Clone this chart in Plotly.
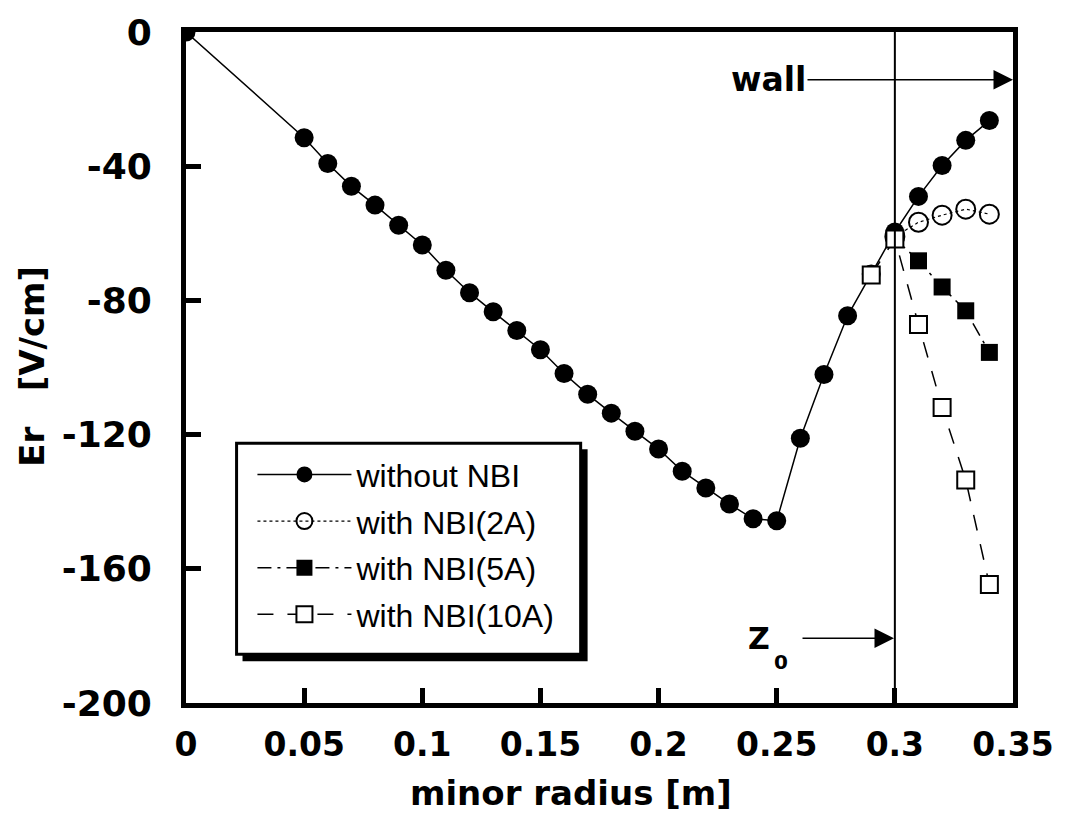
import plotly.graph_objects as go

# ---- data ----
r_base = [0.0, 0.05, 0.06, 0.07, 0.08, 0.09, 0.10, 0.11, 0.12, 0.13, 0.14, 0.15,
          0.16, 0.17, 0.18, 0.19, 0.20, 0.21, 0.22, 0.23, 0.24, 0.25, 0.26, 0.27,
          0.28, 0.29, 0.30, 0.31, 0.32, 0.33, 0.34]
er_base = [0.0, -31.5, -39.2, -46.0, -51.6, -57.6, -63.5, -71.0, -77.7, -83.4, -89.0,
           -94.7, -101.8, -108.0, -113.6, -119.0, -124.3, -130.9, -135.9, -140.7,
           -145.1, -145.7, -121.1, -102.1, -84.6, -72.1, -59.6, -49.0, -39.8, -32.3, -26.4]

r_2a = [0.30, 0.31, 0.32, 0.33, 0.34]
er_2a = [-61.0, -56.7, -54.6, -52.8, -54.3]

r_5a = [0.30, 0.31, 0.32, 0.33, 0.34]
er_5a = [-61.5, -68.2, -76.0, -83.1, -95.5]

r_10a = [0.29, 0.30, 0.31, 0.32, 0.33, 0.34]
er_10a = [-72.4, -61.7, -87.2, -111.9, -133.5, -164.7]

x_ticks = [0, 0.05, 0.1, 0.15, 0.2, 0.25, 0.3, 0.35]
x_ticktext = ["0", "0.05", "0.1", "0.15", "0.2", "0.25", "0.3", "0.35"]
y_ticks = [0, -40, -80, -120, -160, -200]
y_ticktext = ["0", "-40", "-80", "-120", "-160", "-200"]

names = ["without NBI", "with NBI(2A)", "with NBI(5A)", "with NBI(10A)"]

BOLD = dict(family="DejaVu Sans", color="black", weight="bold")

fig = go.Figure()
fig.add_trace(go.Scatter(
    x=r_base, y=er_base, name=names[0], mode="lines+markers", legendgroup="a",
    line=dict(color="black", width=1.5),
    marker=dict(symbol="circle", size=19, color="black")))
fig.add_trace(go.Scatter(
    x=r_2a, y=er_2a, name=names[1], mode="lines+markers", legendgroup="b",
    line=dict(color="black", width=1.2, dash="dot"),
    marker=dict(symbol="circle-open", size=19, color="black", line=dict(width=2))))
fig.add_trace(go.Scatter(
    x=r_5a, y=er_5a, name=names[2], mode="lines+markers", legendgroup="c",
    line=dict(color="black", width=1.5, dash="14px,6px,3px,6px"),
    marker=dict(symbol="square", size=17, color="black")))
fig.add_trace(go.Scatter(
    x=r_10a, y=er_10a, name=names[3], mode="lines+markers", legendgroup="d",
    line=dict(color="black", width=1.5, dash="16px,14px"),
    marker=dict(symbol="square", size=17, color="white", line=dict(color="black", width=2))))

# plot geometry in pixels (for annotation placement)
L, R, T, B = 186, 1020, 29, 703
W, H = R - L, B - T
def px_x(p):
    return (p - L) / W * 0.35
def px_y(p):
    return -(p - T) / H * 200
def pp_x(p):
    return (p - L) / W
def pp_y(p):
    return (B - p) / H

fig.update_layout(
    width=1066, height=823,
    margin=dict(l=L, r=1066 - R, t=T, b=823 - B),
    paper_bgcolor="white", plot_bgcolor="white",
    showlegend=True,
    legend=dict(
        x=pp_x(253), y=pp_y(446), xanchor="left", yanchor="top",
        bgcolor="rgba(0,0,0,0)", borderwidth=0,
        font=dict(family="Liberation Sans", size=32, color="black"),
        itemwidth=94, tracegroupgap=2),
    xaxis=dict(
        range=[0, 0.35], tickvals=x_ticks, ticktext=x_ticktext,
        showgrid=False, zeroline=False,
        showline=True, linecolor="black", linewidth=5, mirror=True,
        ticks="inside", ticklen=15, tickwidth=5, tickcolor="black",
        tickfont=dict(size=33, **BOLD), ticklabelstandoff=8),
    yaxis=dict(
        range=[-200, 0], tickvals=y_ticks, ticktext=y_ticktext,
        showgrid=False, zeroline=False,
        showline=True, linecolor="black", linewidth=5, mirror=True,
        ticks="inside", ticklen=15, tickwidth=5, tickcolor="black",
        tickfont=dict(size=36, **BOLD), ticklabelstandoff=22),
)

# Z0 vertical line
fig.add_shape(type="line", x0=0.30, x1=0.30, y0=0, y1=1, xref="x", yref="paper",
              line=dict(color="black", width=2))

# legend frame with drop shadow
fig.add_shape(type="rect", xref="paper", yref="paper",
              x0=pp_x(243), x1=pp_x(591), y0=pp_y(661), y1=pp_y(448),
              fillcolor="black", line=dict(width=0), layer="above")
fig.add_shape(type="rect", xref="paper", yref="paper",
              x0=pp_x(237), x1=pp_x(584), y0=pp_y(654), y1=pp_y(442),
              fillcolor="white", line=dict(color="black", width=3), layer="above")

# axis titles
fig.add_annotation(text="minor radius [m]", xref="paper", yref="paper",
                   x=pp_x(574), y=pp_y(793),
                   xanchor="center", yanchor="middle", showarrow=False,
                   font=dict(size=34, **BOLD))
fig.add_annotation(text="Er\u00a0\u00a0\u00a0[V/cm]", xref="paper", yref="paper",
                   x=pp_x(30), y=pp_y(365), textangle=-90,
                   xanchor="center", yanchor="middle", showarrow=False,
                   font=dict(size=34, **BOLD))

# wall arrow + label
fig.add_annotation(x=0.35, y=px_y(77), ax=813 - 1020, ay=0, text="",
                   showarrow=True, arrowhead=2, arrowsize=2.6, arrowwidth=1.5,
                   arrowcolor="black")
fig.add_annotation(x=px_x(773), y=px_y(77), text="wall", showarrow=False,
                   xanchor="center", yanchor="middle", font=dict(size=33, **BOLD))

# Z0 arrow + label
fig.add_annotation(x=px_x(900), y=px_y(638), ax=807 - 900, ay=0, text="",
                   showarrow=True, arrowhead=2, arrowsize=2.6, arrowwidth=1.5,
                   arrowcolor="black")
fig.add_annotation(x=px_x(764), y=px_y(638), text="Z", showarrow=False,
                   xanchor="center", yanchor="middle", font=dict(size=30, **BOLD))
fig.add_annotation(x=px_x(786), y=px_y(662), text="0", showarrow=False,
                   xanchor="center", yanchor="middle", font=dict(size=20, **BOLD))

fig.write_html("out.html")
